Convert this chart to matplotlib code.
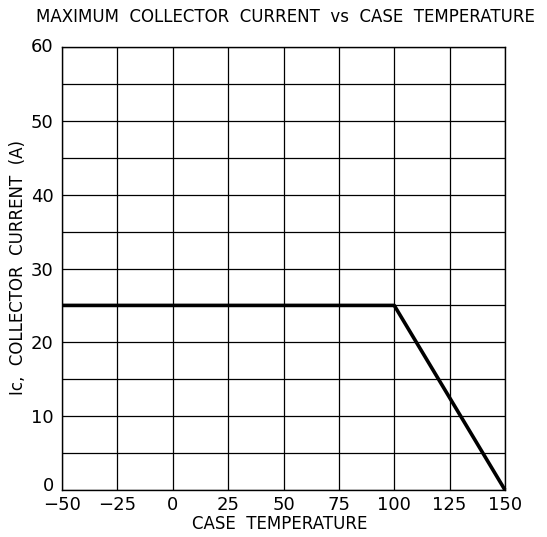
import matplotlib
matplotlib.use("Agg")
import matplotlib.pyplot as plt
import matplotlib.transforms as mtransforms
import numpy as np

temp = [-50, 100, 150]
current = [25, 25, 0]
xticks = [-50, -25, 0, 25, 50, 75, 100, 125, 150]
yticks = [0, 10, 20, 30, 40, 50, 60]

plt.rcParams['font.family'] = ['DejaVu Sans']
fig = plt.figure(figsize=(5.47, 5.37), dpi=100)
ax = fig.add_axes([62/547, 1-490/537, (505-62)/547, (490-47)/537])
ax.set_xlim(-50, 150)
ax.set_ylim(0, 60)
ax.set_xticks(xticks)
ax.set_xticklabels(["\u2212" + str(-v) if v < 0 else str(v) for v in xticks])
ax.set_yticks(yticks)
ax.set_yticks(np.arange(0, 61, 5), minor=True)
ax.grid(True, which='both', color='black', linewidth=0.9)
ax.tick_params(which='both', length=0, labelsize=13)
ax.tick_params(axis='x', pad=4)
ax.tick_params(axis='y', pad=6)
for s in ax.spines.values():
    s.set_linewidth(1.0)
ax.plot(temp, current, color='black', linewidth=2.6, solid_capstyle='butt', clip_on=False, zorder=3)

fig.canvas.draw()
ylabels = ax.get_yticklabels()
ylabels[0].set_transform(ylabels[0].get_transform() + mtransforms.ScaledTranslation(0, 6/100, fig.dpi_scale_trans))
ylabels[-1].set_transform(ylabels[-1].get_transform() + mtransforms.ScaledTranslation(0, 2/100, fig.dpi_scale_trans))

fig.text(285/547, 1-17/537, "MAXIMUM  COLLECTOR  CURRENT  vs  CASE  TEMPERATURE", ha='center', va='center', fontsize=12)
fig.text(280/547, 1-524/537, "CASE  TEMPERATURE", ha='center', va='center', fontsize=12)
fig.text(18/547, 1-268/537, "Ic,  COLLECTOR  CURRENT  (A)", ha='center', va='center', fontsize=12, rotation=90)
fig.savefig("out.png", dpi=100)
